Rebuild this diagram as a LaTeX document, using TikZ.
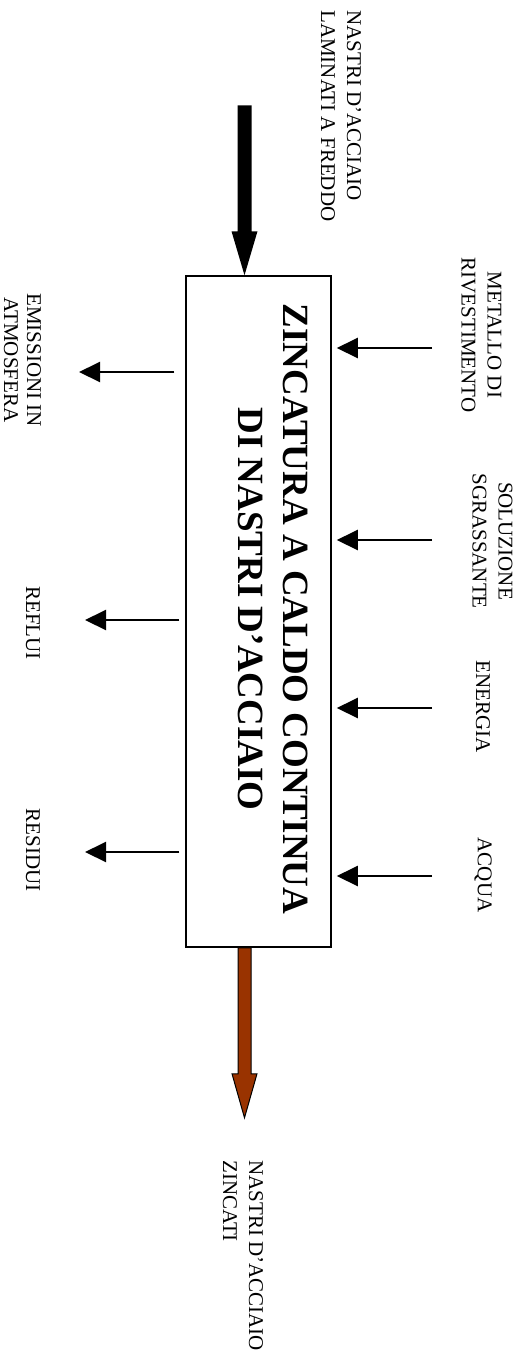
\documentclass[tikz,border=0pt]{standalone}
\usepackage{fontspec}
\setmainfont{Liberation Serif}
\usetikzlibrary{arrows.meta,calc}
\begin{document}
\begin{tikzpicture}[x=1pt,y=-1pt,
  lbl/.style={rotate=-90, inner sep=0pt, align=center,
    font=\fontsize{21}{26}\selectfont},
  lblleft/.style={lbl, align=left, anchor=west},
  flow/.style={line width=2pt, -{Triangle[length=21pt,width=20pt]}},
  process/.style={draw, line width=1.5pt, minimum width=145pt,
    minimum height=671pt, inner sep=0pt},
  titletext/.style={rotate=-90, inner sep=0pt, align=center,
    font=\fontsize{37}{45}\selectfont\bfseries}]
\useasboundingbox (0,0) rectangle (522,1369);

% main process block
\node[process] (box) at (258.5,611.5) {};
\node[titletext] (title) at (273,609)
  {ZINCATURA A CALDO CONTINUA\\DI NASTRI D'ACCIAIO};

% labels
\node[lblleft] (lIn) at (341,10) {NASTRI D'ACCIAIO\\LAMINATI A FREDDO};
\node[lblleft] (lOut) at (243,1160) {NASTRI D'ACCIAIO\\ZINCATI};
\node[lbl] (lMet) at (481.5,335) {METALLO DI\\RIVESTIMENTO};
\node[lbl] (lSol) at (492.5,541) {SOLUZIONE\\SGRASSANTE};
\node[lbl] (lEne) at (483,707) {ENERGIA};
\node[lbl] (lAcq) at (483,875) {ACQUA};
\node[lbl, font=\fontsize{21}{23}\selectfont] (lEmi) at (22.5,360)
  {EMISSIONI IN\\ATMOSFERA};
\node[lbl] (lRef) at (33,623) {REFLUI};
\node[lbl] (lRes) at (33,850) {RESIDUI};

% free ends of the side connectors
\coordinate (cMet) at (432,348);
\coordinate (cSol) at (432,540);
\coordinate (cEne) at (432,708);
\coordinate (cAcq) at (432,876);
\coordinate (cEmi) at (79,372);
\coordinate (cRef) at (85,620);
\coordinate (cRes) at (85,852);

% inputs
\draw[flow, shorten >=5pt] (cMet) -- (cMet -| box.east);
\draw[flow, shorten >=5pt] (cSol) -- (cSol -| box.east);
\draw[flow, shorten >=5pt] (cEne) -- (cEne -| box.east);
\draw[flow, shorten >=5pt] (cAcq) -- (cAcq -| box.east);

% outputs
\draw[flow, shorten <=11pt] (cEmi -| box.west) -- (cEmi);
\draw[flow, shorten <=6pt] (cRef -| box.west) -- (cRef);
\draw[flow, shorten <=6pt] (cRes -| box.west) -- (cRes);

% strip entering the line
\fill[black] ([xshift=-14pt]box.north) -- ++(13,-44) -- ++(-6,0)
  -- ++(0,-126) -- ++(-14,0) -- ++(0,126) -- ++(-6,0) -- cycle;

% coated strip leaving the line
\definecolor{strip}{HTML}{993300}
\filldraw[fill=strip, draw=black, line width=1pt]
  ([xshift=-20.5pt]box.south) -- ++(13,0) -- ++(0,126) -- ++(6,0)
  -- ++(-12.5,44) -- ++(-12.5,-44) -- ++(6,0) -- cycle;
\end{tikzpicture}
\end{document}
